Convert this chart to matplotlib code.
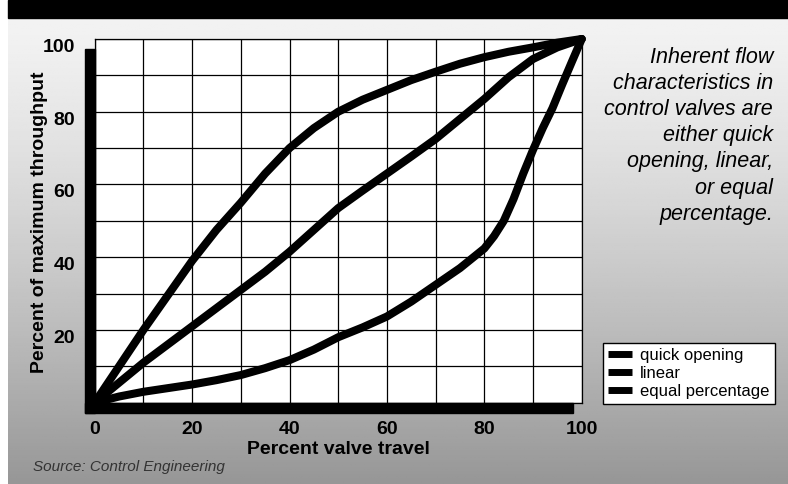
import numpy as np
import matplotlib.pyplot as plt
from matplotlib.patches import Rectangle

plt.rcParams['font.family'] = ['Liberation Sans', 'DejaVu Sans']

# percent valve travel vs percent of maximum throughput
travel = [0, 5, 10, 15, 20, 25, 30, 35, 40, 45, 50, 55, 60, 65, 70, 75, 80, 85, 90, 95, 100]
quick_opening = [0, 10, 20, 29.5, 39, 47.5, 55, 63, 70, 75.5, 80, 83.3, 86, 88.7, 91, 93.2,
                 95, 96.5, 97.7, 99, 100]
linear = [0, 5.5, 11, 16, 21, 26, 31, 36, 41.5, 47.5, 53.5, 58.3, 63, 67.7, 72.5, 78,
          83.5, 89.5, 94.5, 97.7, 100]
eq_travel = [0, 5, 10, 15, 20, 25, 30, 35, 40, 45, 50, 55, 60, 65, 70, 75, 80, 82, 84,
             86, 88, 90, 92, 94, 96, 98, 100]
equal_pct = [0, 1.7, 3, 4, 5, 6.2, 7.6, 9.5, 11.7, 14.6, 18, 20.7, 23.7, 27.8, 32.4, 37,
             42.4, 45.8, 50, 56, 63, 69.5, 75.5, 81, 87.5, 93.8, 100]

x_ticks = [0, 20, 40, 60, 80, 100]
y_ticks = [20, 40, 60, 80, 100]
grid_steps = list(range(0, 101, 10))

W, H = 788, 484
fig = plt.figure(figsize=(W / 100, H / 100), dpi=100)
fig.patch.set_facecolor('white')

# grey background, lighter at the top
bg = fig.add_axes([8 / W, 0, 1 - 8 / W, 1 - 18 / H], zorder=0)
t = np.linspace(0, 1, 200)[:, None]
grad = 0.95 - 0.36 * t ** 1.3
bg.imshow(grad * np.ones((1, 10)), cmap='gray', vmin=0, vmax=1,
          aspect='auto', extent=[0, 1, 0, 1], origin='upper')
bg.axis('off')

# black band on top
fig.patches.append(Rectangle((8 / W, 1 - 18 / H), 1, 18 / H, color='black',
                             transform=fig.transFigure, figure=fig))

ax = fig.add_axes([94.7 / W, 1 - 402.7 / H, 487 / W, 363.7 / H], zorder=2)
ax.set_facecolor('white')

lw = 5.8
style = dict(color='black', lw=lw, solid_capstyle='round', solid_joinstyle='round',
             clip_on=False, zorder=3)
ax.plot(travel, quick_opening, label='quick opening', **style)
ax.plot(travel, linear, label='linear', **style)
ax.plot(eq_travel, equal_pct, label='equal percentage', **style)

ax.set_xlim(0, 100)
ax.set_ylim(0, 100)
# grid every 10, labels every 20
for g in grid_steps:
    ax.axvline(g, color='black', lw=0.9, zorder=1)
    ax.axhline(g, color='black', lw=0.9, zorder=1)
ax.set_xticks(x_ticks)
ax.set_yticks(y_ticks)
ax.tick_params(length=0)
ax.tick_params(axis='x', pad=13)
ax.tick_params(axis='y', pad=14)
for lab in ax.get_xticklabels() + ax.get_yticklabels():
    lab.set_fontsize(14)
    lab.set_fontweight('bold')
for lab in ax.get_yticklabels():
    lab.set_verticalalignment('top')
for s in ax.spines.values():
    s.set_color('black')
    s.set_linewidth(0.9)

# thick black axis bars
fig.patches.append(Rectangle((85 / W, 1 - 413 / H), 9.7 / W, 364 / H, color='black',
                             transform=fig.transFigure, figure=fig, zorder=3))
fig.patches.append(Rectangle((85 / W, 1 - 413 / H), 488 / W, 10 / H, color='black',
                             transform=fig.transFigure, figure=fig, zorder=3))

fig.text(338 / W, 1 - 450 / H, 'Percent valve travel', ha='center', va='center',
         fontsize=14, fontweight='bold')
fig.text(40 / W, 1 - 222 / H, 'Percent of maximum throughput', ha='center',
         va='center', rotation=90, fontsize=14, fontweight='bold')
fig.text(33 / W, 1 - 467 / H, 'Source: Control Engineering', ha='left',
         va='center', fontsize=11, style='italic', color='#333333')

fig.text(773 / W, 1 - 47 / H,
         'Inherent flow\ncharacteristics in\ncontrol valves are\neither quick\n'
         'opening, linear,\nor equal\npercentage.',
         ha='right', va='top', fontsize=15.5, style='italic', linespacing=1.32)

leg = ax.legend(loc='upper left', bbox_to_anchor=(602.7 / W, 1 - 343 / H),
                bbox_transform=fig.transFigure, frameon=True, fancybox=False,
                edgecolor='black', framealpha=1, fontsize=12,
                handlelength=1.45, handletextpad=0.5, labelspacing=0.18,
                borderpad=0.3, borderaxespad=0)
leg.get_frame().set_linewidth(1.0)
for h in leg.get_lines():
    h.set_linewidth(5)
    h.set_solid_capstyle('butt')

fig.savefig('out.png', dpi=100)
